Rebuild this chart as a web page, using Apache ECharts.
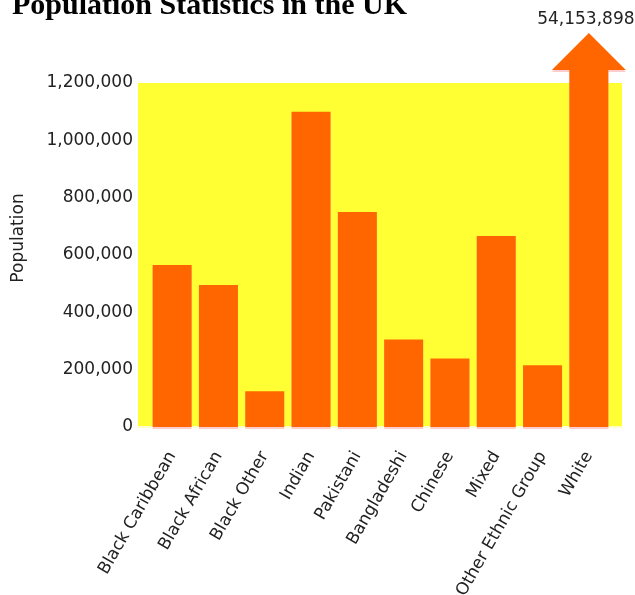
<!DOCTYPE html>
<html>
<head>
<meta charset="utf-8">
<script src="https://cdn.jsdelivr.net/npm/echarts@6/dist/echarts.min.js"></script>
<style>html,body{margin:0;padding:0;background:#fff}#c{width:635px;height:595px}</style>
</head>
<body>
<div id="c"></div>
<script>
const titleText = 'Population Statistics in the UK';
const yAxisName = 'Population';
const categories = ['Black Caribbean', 'Black African', 'Black Other', 'Indian', 'Pakistani', 'Bangladeshi', 'Chinese', 'Mixed', 'Other Ethnic Group', 'White'];
const values = [565000, 495000, 125000, 1100000, 750000, 305000, 239000, 666000, 215000, 54153898];
const yMin = 0;
const yMax = 1200000;
const yInterval = 200000;

const FONT = '"DejaVu Sans", sans-serif';
const fmt = v => String(Math.round(v)).replace(/\B(?=(\d{3})+(?!\d))/g, ',');

const barData = values.map(v => (v > yMax ? '-' : v));
const overflowData = values.map((v, i) => [i, v]).filter(d => d[1] > yMax);

const chart = echarts.init(document.getElementById('c'), null, {renderer: 'canvas'});
chart.setOption({
  animation: false,
  backgroundColor: '#ffffff',
  title: {
    text: titleText, left: 12, top: -9, padding: 0,
    textStyle: {fontFamily: '"Liberation Serif", "Times New Roman", serif', fontWeight: 'bold', fontSize: 30, color: '#000'}
  },
  graphic: [{
    type: 'text', x: 19, y: 238, rotation: Math.PI / 2,
    style: {text: yAxisName, font: '17px ' + FONT, fill: '#222', align: 'center', verticalAlign: 'middle'}
  }],
  grid: [
    {left: 138, top: 83, width: 484, height: 344, show: true, backgroundColor: '#ffff33', borderWidth: 0,
     containLabel: false, outerBoundsMode: 'none'},
    {left: 149, top: 83, width: 463, height: 344, containLabel: false, outerBoundsMode: 'none'}
  ],
  xAxis: [
    {gridIndex: 0, type: 'value', min: 0, max: 1, show: true,
     axisLine: {show: true, onZero: false, lineStyle: {color: '#ffffcc', width: 2}}, axisTick: {show: false},
     axisLabel: {show: false}, splitLine: {show: false}},
    {gridIndex: 1, type: 'category', data: categories,
     axisLine: {show: false}, axisTick: {show: false},
     axisLabel: {rotate: 60, margin: 26, interval: 0, fontFamily: FONT, fontSize: 17, color: '#222'}}
  ],
  yAxis: [
    {gridIndex: 0, type: 'value', min: yMin, max: yMax, interval: yInterval,
     axisLine: {show: false}, axisTick: {show: false}, splitLine: {show: false},
     axisLabel: {margin: 5, fontFamily: FONT, fontSize: 17, color: '#222', formatter: v => fmt(v)}},
    {gridIndex: 1, type: 'value', min: yMin, max: yMax, interval: yInterval, show: false}
  ],
  series: [
    {
      type: 'bar', xAxisIndex: 1, yAxisIndex: 1, data: barData, barWidth: 39,
      itemStyle: {color: '#ff6600', shadowColor: '#ffcccc', shadowOffsetY: 2, shadowBlur: 0}
    },
    {
      type: 'custom', xAxisIndex: 1, yAxisIndex: 1, clip: false, data: overflowData,
      renderItem: function (params, api) {
        const idx = api.value(0), v = api.value(1);
        const base = api.coord([idx, yMin]);
        const top = api.coord([idx, yMax]);
        const cx = base[0];
        const hw = 19.5;
        const shaftTop = top[1] - 13;
        const headTop = shaftTop - 37;
        const headHalf = 37;
        return {
          type: 'group',
          children: [
            {type: 'polygon', shape: {points: [
              [cx - hw, base[1]], [cx - hw, shaftTop], [cx - headHalf, shaftTop], [cx, headTop],
              [cx + headHalf, shaftTop], [cx + hw, shaftTop], [cx + hw, base[1]]]},
             style: {fill: '#ff6600', shadowColor: '#ffcccc', shadowOffsetY: 2, shadowBlur: 0}},
            {type: 'text', x: cx - 3, y: headTop - 13,
             style: {text: fmt(v), font: '17px ' + FONT, fill: '#222', align: 'center', verticalAlign: 'middle'}}
          ]
        };
      }
    }
  ]
});
</script>
</body>
</html>
